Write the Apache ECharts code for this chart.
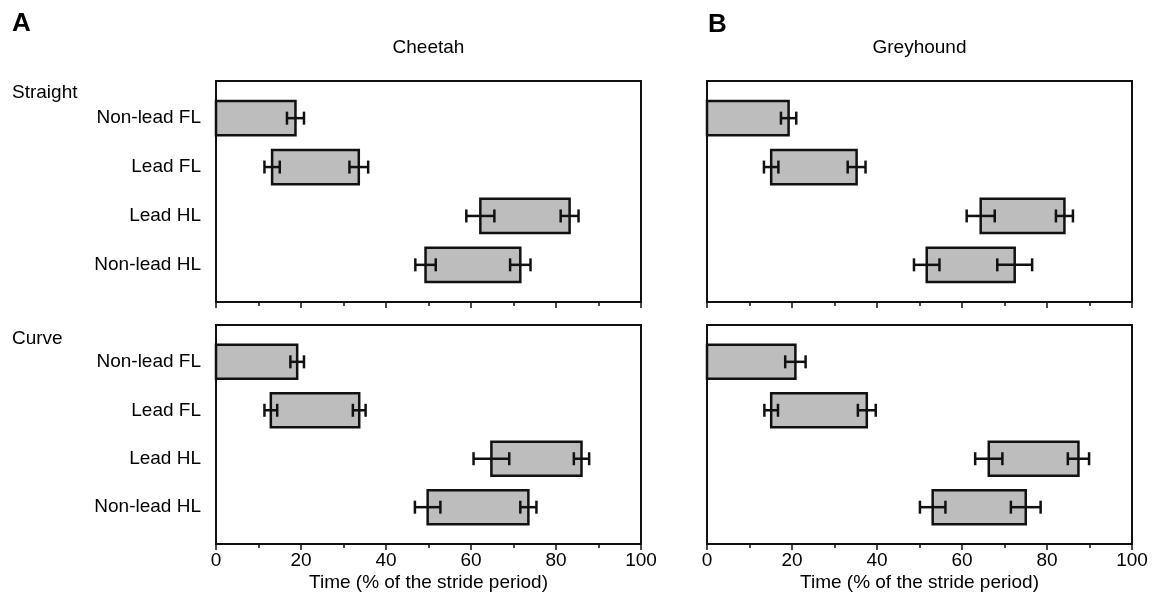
<!DOCTYPE html>
<html>
<head>
<meta charset="utf-8">
<script src="https://cdn.jsdelivr.net/npm/echarts@6/dist/echarts.min.js"></script>
<style>
html,body{margin:0;padding:0;background:#fff;}
#main{width:1163px;height:610px;}
</style>
</head>
<body>
<div id="main"></div>
<script>
// ---- Data (Time, % of the stride period) ----
const categories = ['Non-lead FL', 'Lead FL', 'Lead HL', 'Non-lead HL'];
const xTicks = [0, 20, 40, 60, 80, 100];

// Cheetah, straight
const cheetahStraightStart   = [0, 13.2, 62.2, 49.3];
const cheetahStraightEnd     = [18.7, 33.6, 83.2, 71.6];
const cheetahStraightStartSD = [0, 1.8, 3.3, 2.4];
const cheetahStraightEndSD   = [2.0, 2.2, 2.1, 2.4];

// Greyhound, straight
const greyStraightStart   = [0, 15.1, 64.4, 51.7];
const greyStraightEnd     = [19.2, 35.2, 84.1, 72.4];
const greyStraightStartSD = [0, 1.7, 3.3, 3.0];
const greyStraightEndSD   = [1.8, 2.1, 2.0, 4.1];

// Cheetah, curve
const cheetahCurveStart   = [0, 12.9, 64.8, 49.8];
const cheetahCurveEnd     = [19.1, 33.7, 86.0, 73.5];
const cheetahCurveStartSD = [0, 1.5, 4.2, 3.0];
const cheetahCurveEndSD   = [1.6, 1.5, 1.8, 1.9];

// Greyhound, curve
const greyCurveStart   = [0, 15.1, 66.3, 53.1];
const greyCurveEnd     = [20.8, 37.6, 87.4, 75.0];
const greyCurveStartSD = [0, 1.6, 3.2, 3.0];
const greyCurveEndSD   = [2.4, 2.1, 2.5, 3.5];

const panelTitles = ['Cheetah', 'Greyhound'];
const rowTitles = ['Straight', 'Curve'];
const xAxisName = 'Time (% of the stride period)';

// ---- Build ----
const FONT = "'Liberation Sans', Arial, Helvetica, sans-serif";
function rows(s, e, sSD, eSD) {
  return categories.map((c, i) => [i, s[i], e[i], sSD[i], eSD[i]]);
}
const panels = [
  rows(cheetahStraightStart, cheetahStraightEnd, cheetahStraightStartSD, cheetahStraightEndSD),
  rows(greyStraightStart, greyStraightEnd, greyStraightStartSD, greyStraightEndSD),
  rows(cheetahCurveStart, cheetahCurveEnd, cheetahCurveStartSD, cheetahCurveEndSD),
  rows(greyCurveStart, greyCurveEnd, greyCurveStartSD, greyCurveEndSD)
];

const gridPos = [
  {left: 216, top: 81, width: 425, height: 221},
  {left: 707, top: 81, width: 425, height: 221},
  {left: 216, top: 325, width: 425, height: 219},
  {left: 707, top: 325, width: 425, height: 219}
];

function renderItem(params, api) {
  const row = api.value(0), s = api.value(1), e = api.value(2);
  const sSD = api.value(3), eSD = api.value(4);
  const p0 = api.coord([s, row]);
  const p1 = api.coord([e, row]);
  const h = api.size([0, 0.7])[1];
  const cap = 13;
  const children = [{
    type: 'rect',
    shape: {x: p0[0], y: p0[1] - h / 2, width: p1[0] - p0[0], height: h},
    style: {fill: '#bdbdbd', stroke: '#111', lineWidth: 2.5}
  }];
  function err(v, sd) {
    if (!(sd > 0)) return;
    const a = api.coord([v - sd, row]);
    const b = api.coord([v + sd, row]);
    const st = {stroke: '#111', lineWidth: 2.5};
    children.push({type: 'line', shape: {x1: a[0], y1: a[1], x2: b[0], y2: b[1]}, style: st});
    children.push({type: 'line', shape: {x1: a[0], y1: a[1] - cap / 2, x2: a[0], y2: a[1] + cap / 2}, style: st});
    children.push({type: 'line', shape: {x1: b[0], y1: b[1] - cap / 2, x2: b[0], y2: b[1] + cap / 2}, style: st});
  }
  if (s > 0) err(s, sSD);
  err(e, eSD);
  return {type: 'group', children: children};
}

const grids = gridPos.map(g => Object.assign({
  show: true, borderColor: '#111', borderWidth: 2, backgroundColor: 'transparent'
}, g));

const xAxes = gridPos.map((g, i) => ({
  type: 'value', gridIndex: i, min: xTicks[0], max: xTicks[xTicks.length - 1], interval: 20,
  axisLine: {show: true, onZero: false, lineStyle: {color: '#111', width: 2}},
  axisTick: {show: true, inside: false, length: 6, lineStyle: {color: '#111', width: 1.5}},
  minorTick: {show: true, splitNumber: 2, length: 4, lineStyle: {color: '#111', width: 1.5}},
  splitLine: {show: false},
  axisLabel: {show: i >= 2, color: '#000', fontFamily: FONT, fontSize: 19, margin: 7},
  name: i >= 2 ? xAxisName : '',
  nameLocation: 'middle', nameGap: 29,
  nameTextStyle: {color: '#000', fontFamily: FONT, fontSize: 19}
}));

const yAxes = gridPos.map((g, i) => ({
  type: 'value', gridIndex: i, inverse: true, min: -0.76, max: 3.76,
  axisLine: {show: true, onZero: false, lineStyle: {color: '#111', width: 2}},
  axisTick: {show: false},
  splitLine: {show: false},
  axisLabel: {
    show: i % 2 === 0,
    customValues: [0, 1, 2, 3],
    formatter: v => categories[Math.round(v)] || '',
    color: '#000', fontFamily: FONT, fontSize: 19, margin: 15
  }
}));

const series = panels.map((d, i) => ({
  type: 'custom', xAxisIndex: i, yAxisIndex: i,
  renderItem: renderItem, data: d,
  encode: {x: [1, 2], y: 0}, clip: false
}));

function txt(text, x, y, opts) {
  return {
    type: 'text', x: x, y: y, silent: true,
    style: Object.assign({text: text, fill: '#000', font: '19px ' + FONT, align: 'left', verticalAlign: 'middle'}, opts || {})
  };
}

const graphics = [
  txt('A', 12, 24, {font: 'bold 26px ' + FONT}),
  txt('B', 708, 25, {font: 'bold 26px ' + FONT}),
  txt(panelTitles[0], 428.5, 48, {align: 'center'}),
  txt(panelTitles[1], 919.5, 48, {align: 'center'}),
  txt(rowTitles[0], 12, 93),
  txt(rowTitles[1], 12, 339)
];

const chart = echarts.init(document.getElementById('main'), null, {renderer: 'canvas'});
chart.setOption({
  animation: false,
  backgroundColor: '#fff',
  grid: grids,
  xAxis: xAxes,
  yAxis: yAxes,
  series: series,
  graphic: graphics
});
</script>
</body>
</html>
